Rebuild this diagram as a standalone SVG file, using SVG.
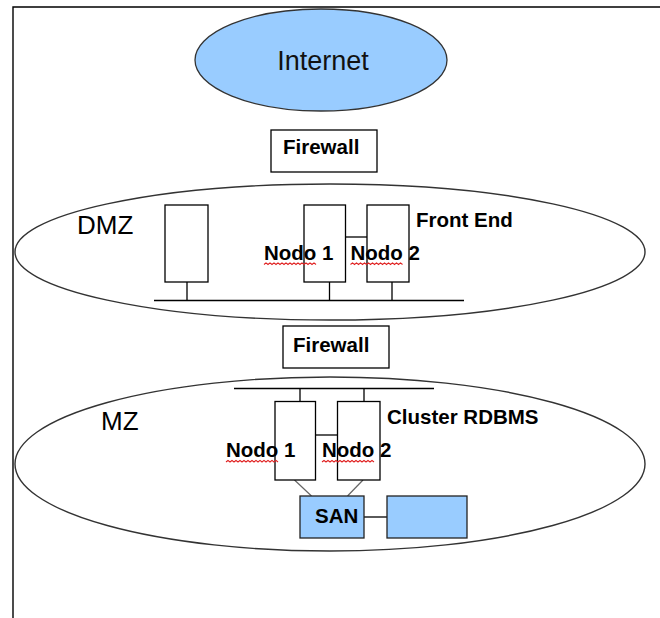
<svg xmlns="http://www.w3.org/2000/svg" width="660" height="618" viewBox="0 0 660 618">
  <style>
    .frame { fill: none; stroke: #000; stroke-width: 1.4; }
    .zone { fill: #fff; stroke: #333; stroke-width: 1.4; }
    .cloud { fill: #99ccff; stroke: #333; stroke-width: 1.3; }
    .box { fill: #fff; stroke: #000; stroke-width: 1.3; }
    .store { fill: #99ccff; stroke: #222; stroke-width: 1.3; }
    .wire { fill: none; stroke: #000; stroke-width: 1.3; }
    .wire-grey { fill: none; stroke: #666; stroke-width: 1.2; }
    .zone-label { font-family: "Liberation Sans", Arial, sans-serif; font-size: 26px; fill: #000; }
    .label { font-family: "Liberation Sans", Arial, sans-serif; font-size: 20.5px; font-weight: bold; fill: #000; }
    .big { font-family: "Liberation Sans", Arial, sans-serif; font-size: 27px; fill: #111; }
    .squiggle { fill: none; stroke: #e02020; stroke-width: 1.1; }
  </style>
  <defs>
    <path id="wave" d="M0 0 l2 -1.6 l2 1.6 l2 -1.6 l2 1.6 l2 -1.6 l2 1.6 l2 -1.6 l2 1.6 l2 -1.6 l2 1.6 l2 -1.6 l2 1.6 l2 -1.6 l2 1.6 l2 -1.6 l2 1.6 l2 -1.6 l2 1.6 l2 -1.6 l2 1.6 l2 -1.6 l2 1.6 l2 -1.6 l2 1.6 l2 -1.6 l2 1.6"/>
  </defs>

  <rect width="660" height="618" fill="#fff"/>

  <!-- page border (top and left edges) -->
  <path class="frame" d="M13 618 V7 H660"/>

  <!-- network zones -->
  <g id="dmz">
    <ellipse class="zone" cx="330" cy="252" rx="315" ry="68"/>
    <text class="zone-label" x="77" y="234">DMZ</text>
  </g>
  <g id="mz">
    <ellipse class="zone" cx="330" cy="464" rx="315" ry="87"/>
    <text class="zone-label" x="101" y="430">MZ</text>
  </g>

  <g id="internet">
    <ellipse class="cloud" cx="321" cy="60" rx="126" ry="51"/>
    <text class="big" x="323" y="70" text-anchor="middle">Internet</text>
  </g>

  <g id="firewall-outer">
    <rect class="box" x="271" y="130" width="106" height="42"/>
    <text class="label" x="283" y="154">Firewall</text>
  </g>

  <g id="firewall-inner">
    <rect class="box" x="283" y="326" width="106" height="42"/>
    <text class="label" x="293" y="352">Firewall</text>
  </g>

  <!-- connectors -->
  <g id="connectors">
    <!-- DMZ LAN -->
    <line class="wire" x1="154" y1="300.5" x2="464" y2="300.5"/>
    <line class="wire" x1="187" y1="279" x2="187" y2="300.5"/>
    <line class="wire" x1="329.5" y1="279" x2="329.5" y2="300.5"/>
    <line class="wire" x1="392" y1="279" x2="392" y2="300.5"/>
    <line class="wire" x1="345.5" y1="237" x2="367" y2="237"/>
    <!-- MZ LAN -->
    <line class="wire" x1="234" y1="388.5" x2="434" y2="388.5"/>
    <line class="wire" x1="300" y1="388.5" x2="300" y2="410"/>
    <line class="wire" x1="364" y1="388.5" x2="364" y2="410"/>
    <line class="wire" x1="315.5" y1="435" x2="337.5" y2="435"/>
    <!-- cluster to SAN -->
    <line class="wire-grey" x1="294.5" y1="480" x2="311.5" y2="496"/>
    <line class="wire-grey" x1="363" y1="480" x2="347.5" y2="496"/>
    <line class="wire" x1="364" y1="517" x2="387" y2="517"/>
  </g>

  <!-- front end servers -->
  <g id="dmz-server">
    <rect class="box" x="165" y="205" width="43" height="77"/>
  </g>
  <g id="fe-nodo1">
    <rect class="box" x="304" y="205" width="41.5" height="77"/>
    <text class="label" x="264" y="260">Nodo 1</text>
    <use href="#wave" class="squiggle" x="264" y="264.5"/>
  </g>
  <g id="fe-nodo2">
    <rect class="box" x="367" y="205" width="42" height="77"/>
    <text class="label" x="350.5" y="260">Nodo 2</text>
    <use href="#wave" class="squiggle" x="350.5" y="264.5"/>
  </g>
  <text id="front-end-label" class="label" x="416" y="227">Front End</text>

  <!-- database cluster -->
  <g id="db-nodo1">
    <rect class="box" x="275" y="401.5" width="40.5" height="78.5"/>
    <text class="label" x="226" y="457">Nodo 1</text>
    <use href="#wave" class="squiggle" x="226" y="462"/>
  </g>
  <g id="db-nodo2">
    <rect class="box" x="337.5" y="401.5" width="42.5" height="78.5"/>
    <text class="label" x="322" y="457">Nodo 2</text>
    <use href="#wave" class="squiggle" x="322" y="462"/>
  </g>
  <text id="cluster-label" class="label" x="387" y="424">Cluster RDBMS</text>

  <!-- storage -->
  <g id="san">
    <rect class="store" x="300" y="496" width="64" height="42"/>
    <text class="label" x="315" y="523">SAN</text>
  </g>
  <g id="storage-array">
    <rect class="store" x="387" y="496" width="80" height="42"/>
  </g>
</svg>
